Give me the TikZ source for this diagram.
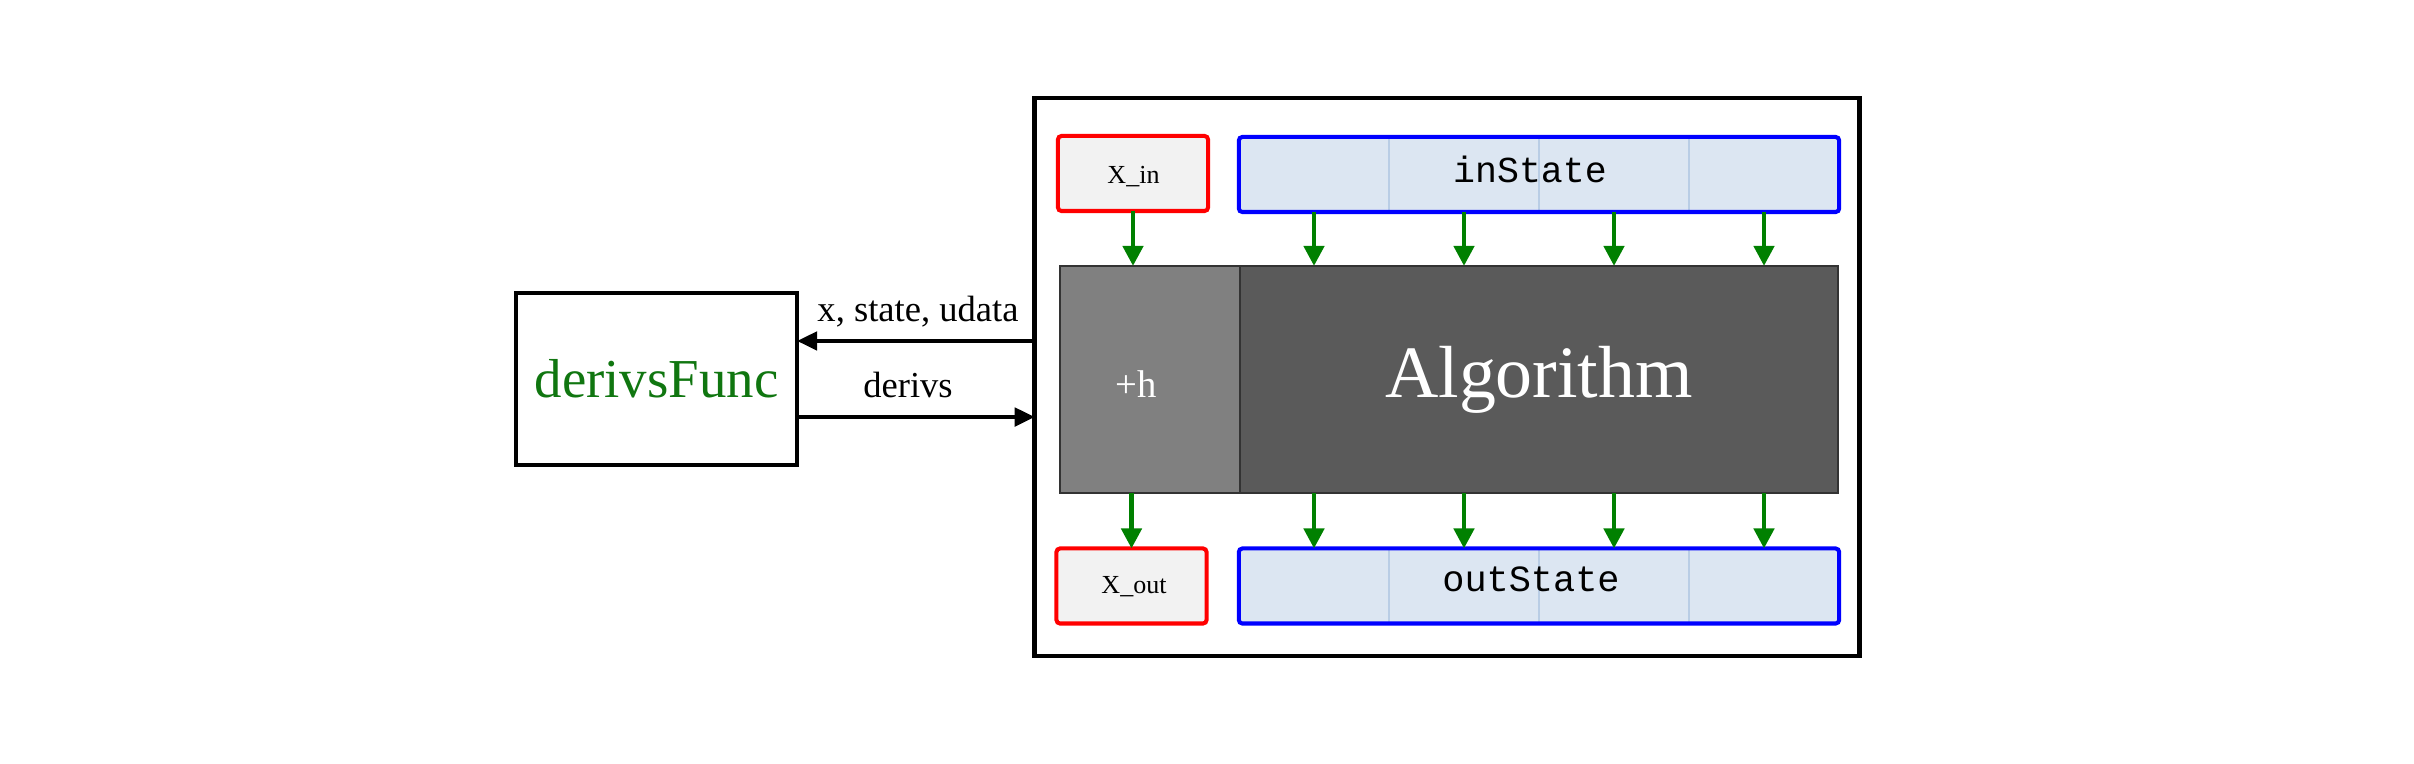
\documentclass[tikz,border=0pt]{standalone}
\usepackage{fontspec}
\setmainfont{Liberation Serif}
\newfontfamily\monof{Liberation Mono}
\usetikzlibrary{arrows.meta}
\definecolor{txtgreen}{RGB}{16,118,16}
\definecolor{agreen}{RGB}{0,128,0}
\definecolor{xfill}{RGB}{242,242,242}
\definecolor{sfill}{RGB}{220,230,242}
\definecolor{sdiv}{RGB}{185,205,229}
\definecolor{plusfill}{RGB}{128,128,128}
\definecolor{algfill}{RGB}{90,90,90}
\tikzset{
  box/.style={rectangle, inner sep=0pt, outer sep=0pt},
  frame/.style={box, draw=black, line width=1.3pt},
  funcbox/.style={box, draw=black, line width=1pt},
  xbox/.style={box, draw=red, fill=xfill, line width=1.15pt, rounded corners=1pt, minimum width=1.5cm, minimum height=0.75cm},
  cell/.style={box, fill=sfill, draw=sdiv, line width=0.4pt, minimum width=1.5cm, minimum height=0.75cm},
  sframe/.style={box, draw=blue, line width=1.15pt, rounded corners=1pt, minimum width=6cm, minimum height=0.75cm},
  procbox/.style={box, draw=black!80, line width=0.6pt, minimum height=2.27cm},
  garrow/.style={draw=agreen, line width=1.3pt, -{Triangle[length=5.7pt,width=5.7pt]}},
  karrow/.style={draw=black, line width=1.15pt, -{Triangle[length=5.7pt,width=5.2pt]}},
  lbl/.style={inner sep=0pt, outer sep=0pt, anchor=base, font=\fontsize{10.4pt}{12pt}\selectfont},
  small/.style={inner sep=0pt, anchor=base, font=\fontsize{7.4pt}{9pt}\selectfont},
}
\begin{document}
\begin{tikzpicture}[x=0.01cm,y=-0.01cm]
\useasboundingbox (0,0) rectangle (2414,764);

% outer frame and function box
\node[frame, minimum width=8.24cm, minimum height=5.58cm] (outer) at (1447,377) {};
\node[funcbox, minimum width=2.81cm, minimum height=1.72cm, text=txtgreen,
      font=\fontsize{15.6pt}{18pt}\selectfont] (dfunc) at (656.5,379) {derivsFunc};

% processing blocks
\node[procbox, fill=plusfill, minimum width=1.8cm] (plus) at (1150,379.5) {};
\node[procbox, fill=algfill, minimum width=5.98cm, text=white,
      font=\fontsize{21pt}{25pt}\selectfont] (alg) at (1539,379.5) {Algorithm};
\node[inner sep=0pt, anchor=base, text=white, font=\fontsize{11pt}{13pt}\selectfont] (plush) at (1136,398) {+h};

% X boxes
\node[xbox] (xin) at (1133,173.5) {};
\node[small] (xinlbl) at (1133.5,184) {X\_in};
\node[xbox] (xout) at (1131.5,586) {};
\node[small] (xoutlbl) at (1134,594) {X\_out};

% state cells
\foreach \i/\x in {1/1314,2/1464,3/1614,4/1764}{
  \node[cell] (in\i) at (\x,174.5) {};
  \node[cell] (out\i) at (\x,586) {};
}
\node[sframe] (instate) at (1539,174.5) {};
\node[sframe] (outstate) at (1539,586) {};
\node[inner sep=0pt, anchor=base, font=\monof\fontsize{10.4pt}{12pt}\selectfont] (inlbl) at (1530,183) {inState};
\node[inner sep=0pt, anchor=base, font=\monof\fontsize{10.5pt}{12pt}\selectfont] (outlbl) at (1531,592) {outState};

% green arrows
\draw[garrow] (xin.south) -- (xin.south |- plus.north);
\draw[garrow] (xout.north |- plus.south) -- (xout.north);
\foreach \i in {1,2,3,4}{
  \draw[garrow] (in\i.south) -- (in\i.south |- alg.north);
  \draw[garrow] (out\i.north |- alg.south) -- (out\i.north);
}

% black arrows
\draw[karrow] ([yshift=0.36cm]outer.west) -- ([yshift=0.36cm]outer.west -| dfunc.east);
\draw[karrow] ([yshift=-0.40cm]outer.west -| dfunc.east) -- ([yshift=-0.40cm]outer.west);
\node[lbl] (l1) at (918,322) {x, state, udata};
\node[lbl] (l2) at (908,398) {derivs};
\end{tikzpicture}
\end{document}
